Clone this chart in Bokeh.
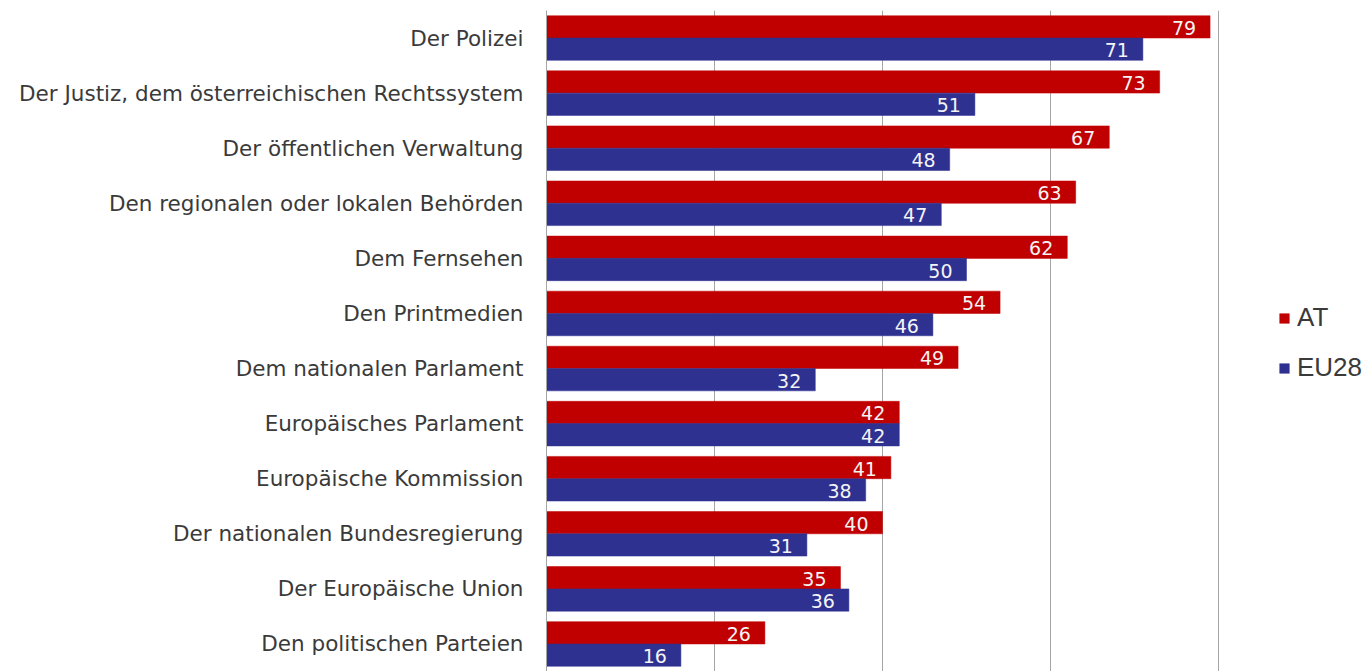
from bokeh.plotting import figure
from bokeh.models import ColumnDataSource, Range1d, FactorRange, FixedTicker, LabelSet, Legend, LegendItem
from bokeh.transform import dodge
from bokeh.core.properties import value
from bokeh.embed import file_html
from bokeh.resources import INLINE

categories = [
    "Der Polizei",
    "Der Justiz, dem österreichischen Rechtssystem",
    "Der öffentlichen Verwaltung",
    "Den regionalen oder lokalen Behörden",
    "Dem Fernsehen",
    "Den Printmedien",
    "Dem nationalen Parlament",
    "Europäisches Parlament",
    "Europäische Kommission",
    "Der nationalen Bundesregierung",
    "Der Europäische Union",
    "Den politischen Parteien",
]
at_values = [79, 73, 67, 63, 62, 54, 49, 42, 41, 40, 35, 26]
eu_values = [71, 51, 48, 47, 50, 46, 32, 42, 38, 31, 36, 16]
series_names = ["AT", "EU28"]
grid_ticks = [20, 40, 60, 80]

RED = "#C00000"
BLUE = "#2E3190"

src = ColumnDataSource(dict(
    cat=categories,
    at=at_values,
    eu=eu_values,
    at_lbl=[str(v) for v in at_values],
    eu_lbl=[str(v) for v in eu_values],
))

p = figure(
    width=1368, height=671,
    y_range=FactorRange(factors=list(reversed(categories)), range_padding=0),
    x_range=Range1d(0, 97.86),
    output_backend="svg", toolbar_location=None,
    min_border_left=546, min_border_top=10, min_border_bottom=0, min_border_right=0,
)
p.outline_line_color = None
p.background_fill_color = "white"
p.border_fill_color = "white"

bh = 0.405
r_at = p.hbar(y=dodge("cat", bh / 2, range=p.y_range), right="at", left=0, height=bh,
              source=src, fill_color=RED, line_color=RED, line_width=0.5)
r_eu = p.hbar(y=dodge("cat", -bh / 2, range=p.y_range), right="eu", left=0, height=bh,
              source=src, fill_color=BLUE, line_color=BLUE, line_width=0.5)

for col, off in (("at", bh / 2), ("eu", -bh / 2)):
    lbl = LabelSet(x=col, y=dodge("cat", off, range=p.y_range), text=col + "_lbl", source=src,
                   x_offset=-14, y_offset=-1, text_align="right", text_baseline="middle",
                   text_color="#F4F4F4", text_font=value("DejaVu Sans"), text_font_size="19px")
    p.add_layout(lbl)

p.xaxis.visible = False
p.xgrid.ticker = FixedTicker(ticks=grid_ticks)
p.xgrid.grid_line_color = "#A6A6A6"
p.xgrid.grid_line_width = 1
p.ygrid.grid_line_color = None

ax = p.yaxis[0]
ax.axis_line_color = "#A6A6A6"
ax.axis_line_width = 1
ax.major_tick_line_color = None
ax.major_tick_out = 0
ax.major_tick_in = 0
ax.minor_tick_line_color = None
ax.major_label_standoff = 23
ax.major_label_text_font = "DejaVu Sans"
ax.major_label_text_font_size = "21.5px"
ax.major_label_text_color = "#3A3A3A"

legend = Legend(items=[LegendItem(label=series_names[0], renderers=[r_at]),
                       LegendItem(label=series_names[1], renderers=[r_eu])],
                location=(732, 288), orientation="vertical",
                glyph_width=12, glyph_height=12, label_text_font="Liberation Sans",
                label_text_font_size="26px", label_text_color="#3A3A3A",
                spacing=19, border_line_color=None, background_fill_alpha=0,
                margin=0, padding=0, label_standoff=7)
legend.label_height = 26
p.add_layout(legend)

open("out.html", "w").write(file_html(p, INLINE))
